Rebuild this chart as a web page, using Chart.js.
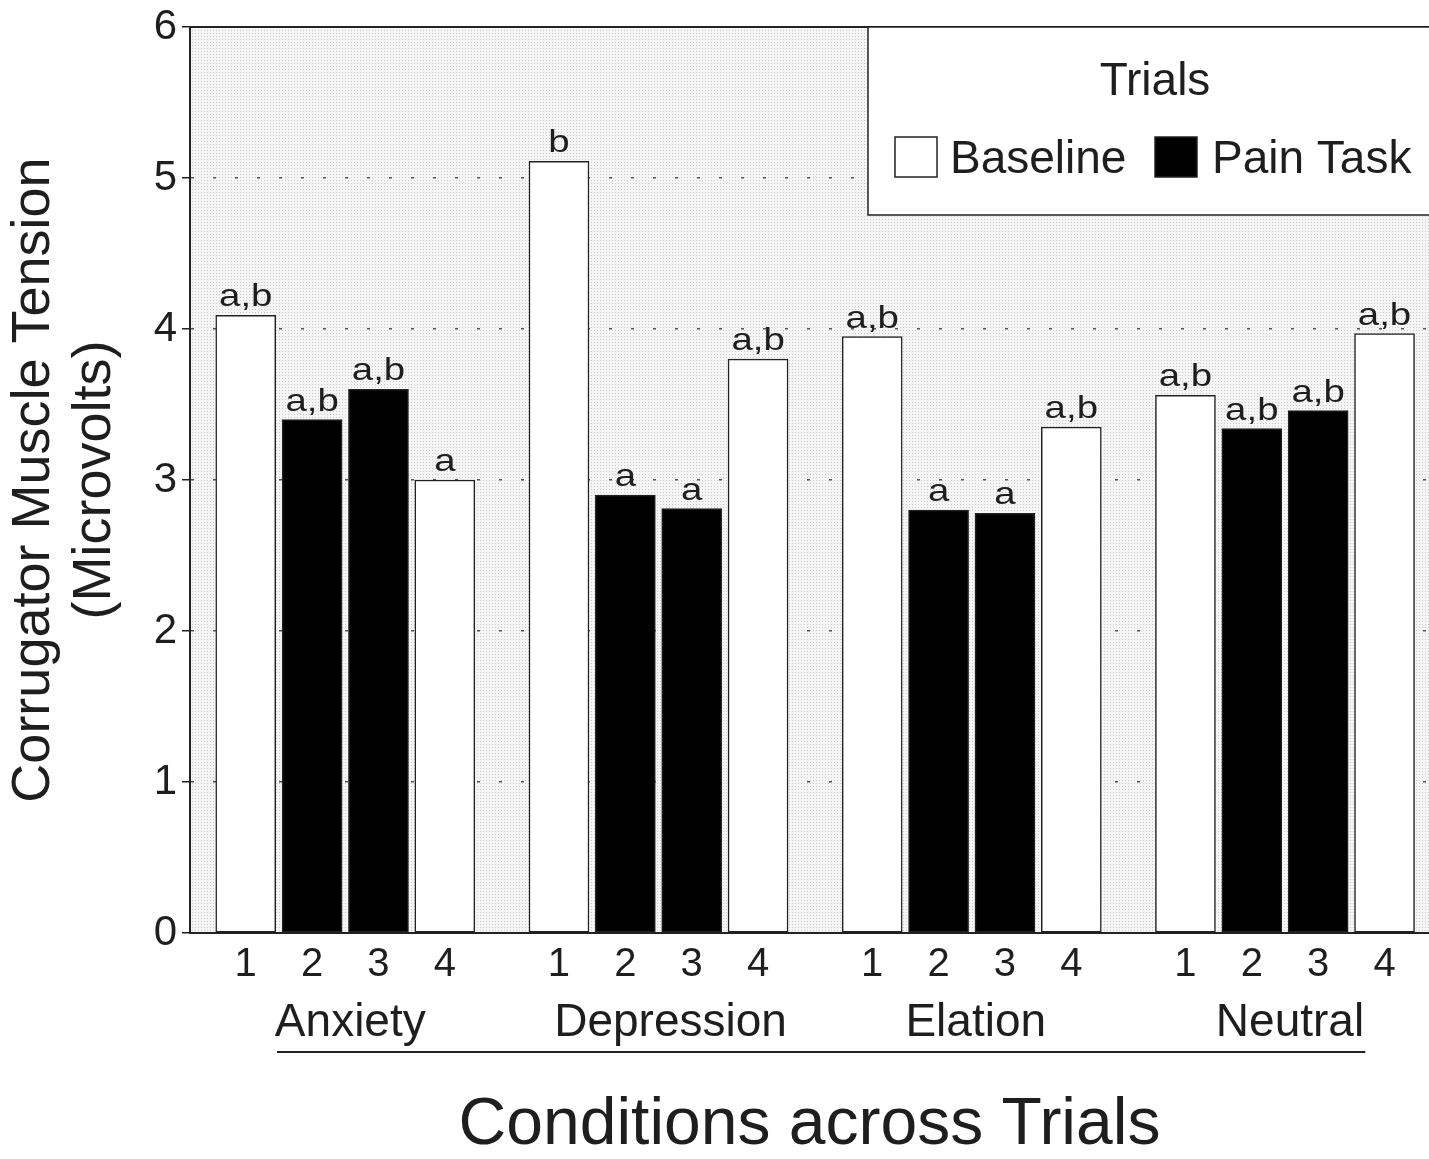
<!DOCTYPE html>
<html lang="en">
<head>
  <meta charset="UTF-8">
  <title>Corrugator Muscle Tension</title>
  <script src="https://cdn.jsdelivr.net/npm/chart.js"></script>
  <style>
    html, body { margin: 0; padding: 0; background: #fff; }
    canvas { display: block; }
  </style>
</head>
<body>
  <canvas id="chart" width="1429" height="1159"></canvas>

  <script>
    // Data
    const conditions = ["Anxiety", "Depression", "Elation", "Neutral"];
    const trialLabels = ["1", "2", "3", "4"];
    const trialType = ["Baseline", "Pain Task", "Pain Task", "Baseline"];
    const yTicks = [0, 1, 2, 3, 4, 5, 6];

    const anxiety = [4.09, 3.40, 3.60, 3.00];
    const depression = [5.11, 2.90, 2.81, 3.80];
    const elation = [3.95, 2.80, 2.78, 3.35];
    const neutral = [3.56, 3.34, 3.46, 3.97];

    const anxietyTags = ["a,b", "a,b", "a,b", "a"];
    const depressionTags = ["b", "a", "a", "a,b"];
    const elationTags = ["a,b", "a", "a", "a,b"];
    const neutralTags = ["a,b", "a,b", "a,b", "a,b"];

    const groupValues = [anxiety, depression, elation, neutral];
    const groupTags = [anxietyTags, depressionTags, elationTags, neutralTags];

    // spacing between condition groups, in trial units
    const GROUP_STEP = 4.72;
    // small horizontal nudges (px) for the condition names, as set in the print
    const NAME_NUDGE = [5, 12, 4, 5];
    const FONT = "'Liberation Sans', Arial, sans-serif";
    const INK = "#1e1e1e";

    function pointsFor(type) {
      const pts = [];
      groupValues.forEach((vals, g) => {
        vals.forEach((v, t) => {
          if (trialType[t] === type) pts.push({ x: g * GROUP_STEP + t, y: v, tag: groupTags[g][t] });
        });
      });
      return pts;
    }

    const tickPositions = [];
    conditions.forEach((c, g) => trialLabels.forEach((l, t) => tickPositions.push(g * GROUP_STEP + t)));

    // stippled plot background
    function stipple(ctx) {
      const tile = document.createElement("canvas");
      tile.width = 3; tile.height = 3;
      const t = tile.getContext("2d");
      t.fillStyle = "#f5f5f5";
      t.fillRect(0, 0, 3, 3);
      t.fillStyle = "#cccccc";
      t.fillRect(0, 0, 1, 1);
      return ctx.createPattern(tile, "repeat");
    }

    const backgroundPlugin = {
      id: "plotBackground",
      beforeDraw(chart) {
        const { ctx, chartArea: a } = chart;
        ctx.save();
        ctx.fillStyle = stipple(ctx);
        ctx.fillRect(a.left, a.top, a.right - a.left, a.bottom - a.top);
        ctx.restore();
      }
    };

    const decorPlugin = {
      id: "decor",
      afterDatasetsDraw(chart) {
        const { ctx, chartArea: a } = chart;
        const xs = chart.scales.x;
        ctx.save();

        // letters above bars
        ctx.fillStyle = INK;
        ctx.font = "32px " + FONT;
        ctx.textAlign = "center";
        ctx.textBaseline = "alphabetic";
        chart.data.datasets.forEach((ds, di) => {
          chart.getDatasetMeta(di).data.forEach((bar, i) => {
            ctx.save();
            ctx.translate(bar.x, bar.y - 9);
            ctx.scale(1.2, 1);
            ctx.fillText(ds.data[i].tag, 0, 0);
            ctx.restore();
          });
        });

        // top frame line
        ctx.strokeStyle = "#222";
        ctx.lineWidth = 2;
        ctx.beginPath();
        ctx.moveTo(a.left, a.top);
        ctx.lineTo(a.right, a.top);
        ctx.stroke();

        // condition names under the trial numbers
        ctx.font = "46px " + FONT;
        ctx.textBaseline = "middle";
        conditions.forEach((c, g) => {
          ctx.fillText(c, xs.getPixelForValue(g * GROUP_STEP + 1.5) + NAME_NUDGE[g], 1023);
        });
        ctx.lineWidth = 2;
        ctx.beginPath();
        ctx.moveTo(xs.getPixelForValue(0.47), 1052);
        ctx.lineTo(xs.getPixelForValue(3 * GROUP_STEP + 2.71), 1052);
        ctx.stroke();

        // legend box
        const L = 868, T = a.top, W = a.right - L + 2, H = 188;
        ctx.fillStyle = "#fff";
        ctx.fillRect(L, T, W, H);
        ctx.strokeStyle = "#222";
        ctx.lineWidth = 1.5;
        ctx.strokeRect(L, T, W, H);
        ctx.fillStyle = INK;
        ctx.font = "46px " + FONT;
        ctx.textAlign = "center";
        ctx.fillText("Trials", 1155, T + 55);
        ctx.textAlign = "left";
        const items = [
          { ds: chart.data.datasets[0], box: L + 27, text: L + 82 },
          { ds: chart.data.datasets[1], box: L + 287, text: L + 344 }
        ];
        items.forEach(it => {
          ctx.fillStyle = it.ds.backgroundColor;
          ctx.fillRect(it.box, T + 110, 42, 40);
          ctx.strokeStyle = "#222";
          ctx.lineWidth = 1.5;
          ctx.strokeRect(it.box, T + 110, 42, 40);
          ctx.fillStyle = INK;
          ctx.fillText(it.ds.label, it.text, T + 133);
        });

        ctx.restore();
      }
    };

    new Chart(document.getElementById("chart"), {
      type: "bar",
      data: {
        datasets: [
          {
            label: "Baseline",
            data: pointsFor("Baseline"),
            backgroundColor: "#ffffff",
            borderColor: "#222",
            borderWidth: 1.5,
            borderSkipped: false
          },
          {
            label: "Pain Task",
            data: pointsFor("Pain Task"),
            backgroundColor: "#000000",
            borderColor: "#222",
            borderWidth: 1.5,
            borderSkipped: false
          }
        ]
      },
      options: {
        responsive: false,
        animation: false,
        layout: { padding: { top: 27, left: 0, right: 0, bottom: 0 } },
        datasets: { bar: { grouped: false, barThickness: 60 } },
        plugins: {
          legend: { display: false },
          tooltip: { enabled: false }
        },
        scales: {
          x: {
            type: "linear",
            offset: false,
            min: -0.84,
            max: 3 * GROUP_STEP + 3.67,
            afterBuildTicks: s => { s.ticks = tickPositions.map(v => ({ value: v })); },
            afterFit: s => { s.height = 226; },
            grid: { display: false, drawTicks: false, offset: false },
            border: { display: true, color: "#222", width: 2 },
            ticks: {
              autoSkip: false,
              maxRotation: 0,
              padding: 8,
              color: INK,
              font: { family: FONT, size: 40 },
              callback: (v, i) => trialLabels[i % 4]
            },
            title: {
              display: true,
              text: "Conditions across Trials",
              color: INK,
              font: { family: FONT, size: 66, lineHeight: 1 },
              padding: 0
            }
          },
          y: {
            min: 0,
            max: 6,
            afterBuildTicks: s => { s.ticks = yTicks.map(v => ({ value: v })); },
            afterFit: s => { s.width = 190; },
            grid: {
              color: c => (c.tick && (c.tick.value === 0 || c.tick.value === 6)) ? "rgba(0,0,0,0)" : "#555",
              lineWidth: 1.5,
              tickColor: "#222",
              tickLength: 8,
              tickWidth: 1.5
            },
            border: { display: true, color: "#222", width: 2, dash: [3, 19] },
            ticks: {
              padding: 5,
              color: INK,
              font: { family: FONT, size: 42, lineHeight: 1 }
            },
            title: {
              display: true,
              text: ["Corrugator Muscle Tension", "(Microvolts)"],
              color: INK,
              font: { family: FONT, size: 54, lineHeight: 1.13 },
              padding: { top: 4, bottom: 0 }
            }
          }
        }
      },
      plugins: [backgroundPlugin, decorPlugin]
    });
  </script>
</body>
</html>
